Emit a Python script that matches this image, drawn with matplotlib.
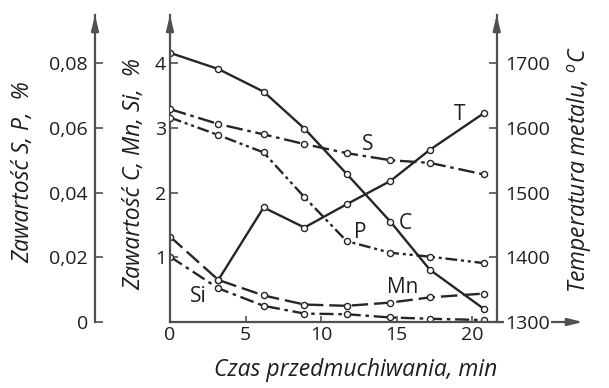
import matplotlib
matplotlib.use("Agg")
import matplotlib.pyplot as plt
from matplotlib.ticker import FuncFormatter

plt.rcParams['font.family'] = ['Open Sans', 'DejaVu Sans']
plt.rcParams['mathtext.fontset'] = 'custom'
plt.rcParams['mathtext.it'] = 'Open Sans:italic'
plt.rcParams['mathtext.rm'] = 'Open Sans'

# ---- data ----
time = [0, 3.2, 6.2, 8.9, 11.7, 14.6, 17.2, 20.8]
carbon = [4.16, 3.91, 3.56, 2.99, 2.29, 1.55, 0.81, 0.20]
manganese = [1.32, 0.65, 0.41, 0.27, 0.25, 0.30, 0.38, 0.44]
silicon = [1.01, 0.52, 0.25, 0.13, 0.12, 0.07, 0.05, 0.03]
sulfur = [0.0658, 0.0612, 0.0580, 0.0550, 0.0522, 0.0500, 0.0492, 0.0456]
phosphorus = [0.0632, 0.0578, 0.0524, 0.0386, 0.0250, 0.0214, 0.0202, 0.0182]
time_T = [3.2, 6.2, 8.9, 11.7, 14.6, 17.2, 20.8]
temperature = [1365, 1477, 1446, 1482, 1518, 1566, 1623]

x_ticks = [0, 5, 10, 15, 20]
cmnsi_ticks = [1, 2, 3, 4]
sp_ticks = [0, 0.02, 0.04, 0.06, 0.08]
t_ticks = [1300, 1400, 1500, 1600, 1700]

W, H = 609, 388
fig = plt.figure(figsize=(W / 100, H / 100), dpi=100)
x0, x1, y0, ytop = 170, 496.7, 322, 15
ax = fig.add_axes([x0 / W, (H - y0) / H, (x1 - x0) / W, (y0 - ytop) / H])

YMAX = (y0 - ytop) / 64.7
XMAX = (x1 - x0) / 15.1
ax.set_xlim(0, XMAX)
ax.set_ylim(0, YMAX)

axis_col = '#505050'
line_col = '#262626'
txt_col = '#1e1e1e'
fs_tick = 14
fs_title = 16.5
fs_curve = 15

for s in ['top', 'right']:
    ax.spines[s].set_visible(False)
for s in ['left', 'bottom']:
    ax.spines[s].set_color(axis_col)
    ax.spines[s].set_linewidth(1.6)

ax.set_xticks(x_ticks)
ax.set_yticks(cmnsi_ticks)
ax.tick_params(axis='both', direction='in', length=6, width=1.2, color=axis_col,
               labelsize=fs_tick, labelcolor=txt_col)
ax.tick_params(axis='x', length=4, pad=3)
ax.tick_params(axis='y', pad=3)

# S, P axis (left, outer)
x_left = -(x0 - 95) / (x1 - x0)
ax_sp = ax.twinx()
ax_sp.set_ylim(0, YMAX * 0.02)
ax_sp.yaxis.set_ticks_position('left')
ax_sp.spines['left'].set_position(('axes', x_left))
for s in ['top', 'right', 'bottom']:
    ax_sp.spines[s].set_visible(False)
ax_sp.spines['left'].set_color(axis_col)
ax_sp.spines['left'].set_linewidth(1.6)
ax_sp.set_yticks(sp_ticks)
ax_sp.yaxis.set_major_formatter(FuncFormatter(
    lambda v, p: '0' if abs(v) < 1e-9 else ('%.2f' % v).replace('.', ',')))
ax_sp.tick_params(axis='y', direction='in', length=6, width=1.2, color=axis_col,
                  labelsize=fs_tick, labelcolor=txt_col, pad=5)

# Temperature axis (right)
ax_t = ax.twinx()
ax_t.set_ylim(1300, 1300 + YMAX * 100)
for s in ['top', 'left', 'bottom']:
    ax_t.spines[s].set_visible(False)
ax_t.spines['right'].set_color(axis_col)
ax_t.spines['right'].set_linewidth(1.6)
ax_t.set_yticks(t_ticks)
ax_t.tick_params(axis='y', direction='in', length=6, width=1.2, color=axis_col,
                 labelsize=fs_tick, labelcolor=txt_col, pad=6)
for lab in ax_t.get_yticklabels():
    lab.set_bbox(dict(facecolor='white', edgecolor='none', pad=0.5))

mk = dict(marker='o', markersize=4.4, markerfacecolor='white',
          markeredgecolor=line_col, markeredgewidth=1.0, color=line_col, lw=1.7)

ax.plot(time, carbon, linestyle='-', **mk)
ax.plot(time, manganese, linestyle=(0, (7, 2.5)), **mk)
ax.plot(time, silicon, linestyle=(0, (6, 2, 1.5, 2)), **mk)
ax_sp.plot(time, sulfur, linestyle=(0, (7, 2, 1.5, 2)), **mk)
ax_sp.plot(time, phosphorus, linestyle=(0, (5, 1.6, 1.3, 1.6, 1.3, 1.6)), **mk)
ax_t.plot(time_T, temperature, linestyle='-', **mk)

# curve labels
lab_kw = dict(fontsize=fs_curve, color=txt_col, ha='center', va='center')
ax.text(13.1, 2.74, 'S', **lab_kw)
ax.text(12.6, 1.39, 'P', **lab_kw)
ax.text(15.6, 1.52, 'C', **lab_kw)
ax.text(15.4, 0.53, 'Mn', **lab_kw)
ax.text(1.85, 0.39, 'Si', **lab_kw)
ax.text(19.15, 3.20, 'T', **lab_kw)

# arrows
arr = dict(arrowstyle='-|>,head_length=0.9,head_width=0.22', color=axis_col,
           lw=1.6, shrinkA=0, shrinkB=0)
for xa in [x_left, 0.0, 1.0]:
    ax.annotate('', xy=(xa, 1.0), xytext=(xa, 0.95), xycoords='axes fraction',
                arrowprops=arr, annotation_clip=False)
ax.annotate('', xy=((583 - x0) / (x1 - x0), 0), xytext=(1.0, 0),
            xycoords='axes fraction', arrowprops=arr, annotation_clip=False,
            zorder=0)

# axis titles
fig.text(356 / W, 1 - 370 / H, 'Czas przedmuchiwania, min', fontsize=fs_title,
         style='italic', ha='center', va='center', color=txt_col)
fig.text(23 / W, 1 - 172 / H, 'Zawartość S, P,  %', fontsize=fs_title,
         style='italic', rotation=90, ha='center', va='center', color=txt_col)
fig.text(134 / W, 1 - 174 / H, 'Zawartość C, Mn, Si,  %', fontsize=fs_title,
         style='italic', rotation=90, ha='center', va='center', color=txt_col)
fig.text(580 / W, 1 - 170 / H, 'Temperatura metalu, $^{o}$C', fontsize=fs_title,
         style='italic', rotation=90, ha='center', va='center', color=txt_col)

fig.savefig('out.png', dpi=100)
